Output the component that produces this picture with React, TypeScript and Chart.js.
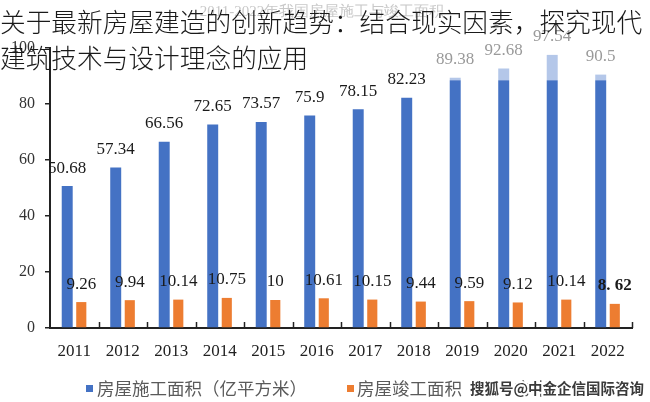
import React, { useEffect, useRef } from "react";
import { Chart, registerables } from "chart.js";

Chart.register(...registerables);

const years = ["2011", "2012", "2013", "2014", "2015", "2016", "2017", "2018", "2019", "2020", "2021", "2022"];
const construction = [50.68, 57.34, 66.56, 72.65, 73.57, 75.9, 78.15, 82.23, 89.38, 92.68, 97.54, 90.5];
const constructionLabels = ["50.68", "57.34", "66.56", "72.65", "73.57", "75.9", "78.15", "82.23", "89.38", "92.68", "97.54", "90.5"];
const completion = [9.26, 9.94, 10.14, 10.75, 10, 10.61, 10.15, 9.44, 9.59, 9.12, 10.14, 8.62];
const completionLabels = ["9.26", "9.94", "10.14", "10.75", "10", "10.61", "10.15", "9.44", "9.59", "9.12", "10.14", "8. 62"];
// level at which the dark construction bar is cut in the picture (the rest is pale)
const constructionCap = 88.5;
const yMax = 100;
const yStep = 20;

const seriesNames = ["房屋施工面积（亿平方米）", "房屋竣工面积（亿平方米）"];
const fadedTitle = "2011-2022年我国房屋施工与竣工面积";
const headline1 = "关于最新房屋建造的创新趋势：结合现实因素，探究现代";
const headline2 = "建筑技术与设计理念的应用";
const watermark = "搜狐号@中金企信国际咨询";

const BLUE = "#4472C4";
const PALE = "#B4C7E9";
const ORANGE = "#ED7D31";
const SERIF = "'Liberation Serif', 'Times New Roman', serif";
const SANS = "'Noto Sans CJK SC', 'Noto Sans', sans-serif";

export default function App() {
  const ref = useRef<HTMLCanvasElement | null>(null);

  useEffect(() => {
    document.body.style.margin = "0";
    const canvas = ref.current;
    if (!canvas) return;

    const labelsPlugin = {
      id: "valueLabels",
      afterDatasetsDraw(chart: any) {
        const ctx = chart.ctx;
        const y = chart.scales.y;
        const darkMeta = chart.getDatasetMeta(0);
        const orangeMeta = chart.getDatasetMeta(2);
        ctx.save();
        ctx.textAlign = "center";
        ctx.textBaseline = "middle";
        for (let i = 0; i < years.length; i++) {
          const bx = darkMeta.data[i].x;
          ctx.font = `17px ${SERIF}`;
          ctx.fillStyle = construction[i] > constructionCap ? "#9a9a9a" : "#1a1a1a";
          ctx.fillText(constructionLabels[i], bx, y.getPixelForValue(construction[i]) - 18);
          const ox = orangeMeta.data[i].x;
          const last = i === years.length - 1;
          ctx.font = `${last ? "bold " : ""}17px ${SERIF}`;
          ctx.fillStyle = "#1a1a1a";
          ctx.fillText(completionLabels[i], ox, y.getPixelForValue(completion[i]) - 18);
        }
        ctx.restore();
      },
    };

    const decorPlugin = {
      id: "decor",
      afterDraw(chart: any) {
        const ctx = chart.ctx;
        const x = chart.scales.x;
        const area = chart.chartArea;
        ctx.save();
        // faded original chart title
        ctx.font = `15px ${SERIF}`;
        ctx.fillStyle = "#c8c8c8";
        ctx.textAlign = "center";
        ctx.textBaseline = "middle";
        ctx.fillText(fadedTitle, 322, 12);
        // inward tick marks at category boundaries
        ctx.strokeStyle = "#222";
        ctx.lineWidth = 1.5;
        const half = (x.getPixelForValue(1) - x.getPixelForValue(0)) / 2;
        for (let i = 0; i < years.length; i++) {
          const px = Math.round(x.getPixelForValue(i) + half) + 0.5;
          ctx.beginPath();
          ctx.moveTo(px, area.bottom);
          ctx.lineTo(px, area.bottom - 6);
          ctx.stroke();
        }
        // legend
        ctx.textBaseline = "middle";
        ctx.textAlign = "left";
        ctx.font = `17.5px ${SANS}`;
        ctx.fillStyle = BLUE;
        ctx.fillRect(86, 385, 7, 7);
        ctx.fillStyle = "#5a5a5a";
        ctx.fillText(seriesNames[0], 97, 388);
        ctx.fillStyle = ORANGE;
        ctx.fillRect(347, 385, 7, 7);
        ctx.fillStyle = "#5a5a5a";
        ctx.fillText(seriesNames[1], 357, 388);
        // watermark
        ctx.font = `bold 14.5px ${SANS}`;
        ctx.lineJoin = "round";
        ctx.strokeStyle = "#ffffff";
        ctx.lineWidth = 4;
        ctx.strokeText(watermark, 470, 388);
        ctx.fillStyle = "#3a3a3a";
        ctx.fillText(watermark, 470, 388);
        ctx.restore();
      },
    };

    const chart = new Chart(canvas, {
      type: "bar",
      data: {
        labels: years,
        datasets: [
          {
            label: seriesNames[0],
            data: construction.map((v) => Math.min(v, constructionCap)),
            backgroundColor: BLUE,
            stack: "a",
            categoryPercentage: 0.58,
            barPercentage: 0.78,
          },
          {
            label: "pale",
            data: construction.map((v) => Math.max(0, v - constructionCap)),
            backgroundColor: PALE,
            stack: "a",
            categoryPercentage: 0.58,
            barPercentage: 0.78,
          },
          {
            label: seriesNames[1],
            data: completion,
            backgroundColor: ORANGE,
            stack: "b",
            categoryPercentage: 0.58,
            barPercentage: 0.72,
          },
        ],
      },
      options: {
        responsive: false,
        animation: false,
        layout: { padding: { top: 48, right: 18, left: 0, bottom: 0 } },
        plugins: {
          legend: { display: false },
          title: { display: false },
          tooltip: { enabled: false },
        },
        scales: {
          x: {
            stacked: true,
            grid: { display: false, drawTicks: false },
            border: { display: true, color: "#222", width: 2 },
            ticks: {
              color: "#222",
              font: { family: SERIF, size: 17 },
              padding: 13,
              maxRotation: 0,
            },
            afterFit(scale: any) {
              scale.height = 74;
            },
          },
          y: {
            stacked: true,
            min: 0,
            max: yMax,
            grid: { drawOnChartArea: false, drawTicks: true, tickLength: 5, color: "#222", lineWidth: 1.5 },
            border: { display: true, color: "#222", width: 2 },
            ticks: {
              stepSize: yStep,
              color: "#333",
              font: { family: SERIF, size: 16 },
              padding: 10,
            },
            afterFit(scale: any) {
              scale.width = 50;
            },
          },
        },
      },
      plugins: [decorPlugin, labelsPlugin],
    } as any);

    return () => chart.destroy();
  }, []);

  return (
    <div style={{ position: "relative", width: 650, height: 402, overflow: "hidden", background: "#fff" }}>
      <canvas ref={ref} width={650} height={402} style={{ display: "block" }} />
      <div
        style={{
          position: "absolute",
          left: 0,
          top: 3,
          width: 650,
          fontFamily: SANS,
          fontSize: 25.7,
          fontWeight: 300,
          lineHeight: "36px",
          color: "#1a1a1a",
          whiteSpace: "nowrap",
          pointerEvents: "none",
        }}
      >
        <div>{headline1}</div>
        <div>{headline2}</div>
      </div>
    </div>
  );
}
